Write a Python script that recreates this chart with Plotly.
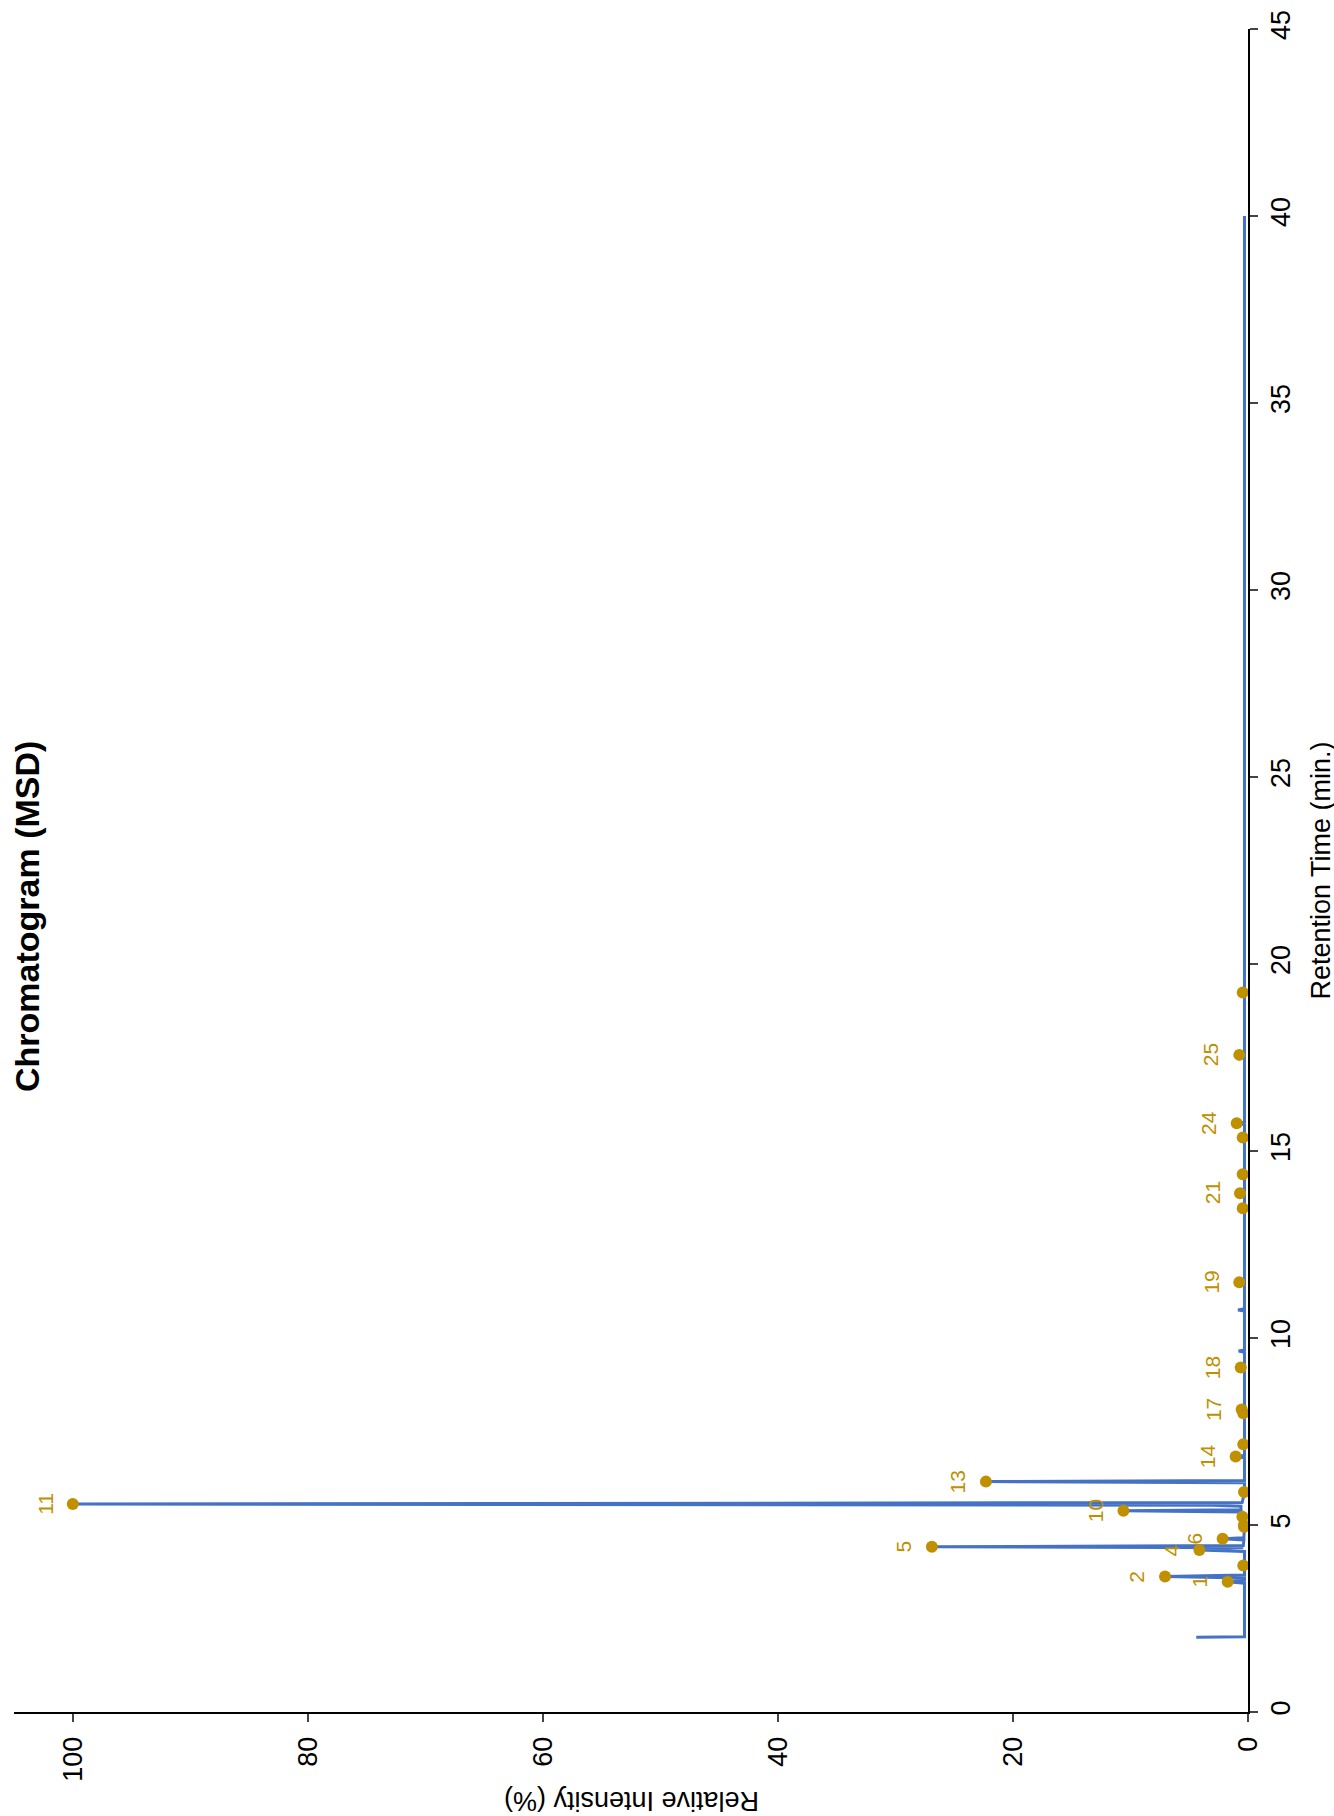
import plotly.graph_objects as go

# ---- data (retention time in min, relative intensity in %) ----
trace_rt = [2.00, 2.01, 3.44, 3.48, 3.52, 3.58, 3.62, 3.66, 3.88, 3.92, 3.96,
            4.29, 4.33, 4.37, 4.39, 4.42, 4.45, 4.60, 4.63, 4.66, 4.92, 4.95,
            4.97, 5.00, 5.03, 5.19, 5.22, 5.25, 5.35, 5.38, 5.41, 5.50, 5.53,
            5.56, 5.60, 5.85, 5.88, 5.91, 6.13, 6.16, 6.19, 6.80, 6.83, 6.86,
            7.13, 7.16, 7.19, 7.96, 7.99, 8.04, 8.09, 8.12, 9.18, 9.21, 9.24,
            9.62, 9.65, 9.68, 10.72, 10.75, 10.78, 11.46, 11.49, 11.52, 13.44,
            13.47, 13.50, 13.84, 13.87, 13.90, 14.35, 14.38, 14.41, 15.33,
            15.36, 15.39, 15.71, 15.74, 15.77, 17.54, 17.57, 17.60, 19.21,
            19.24, 19.27, 25.00, 30.00, 35.00, 40.00]
trace_int = [4.4, 0.3, 0.3, 1.73, 0.3, 0.3, 7.06, 0.3, 0.3, 0.4, 0.3,
             0.3, 4.14, 0.4, 0.4, 26.9, 0.4, 0.35, 2.16, 0.35, 0.3, 0.34,
             0.3, 0.35, 0.3, 0.3, 0.48, 0.3, 0.5, 10.6, 0.6, 0.6, 3.0,
             100.0, 0.5, 0.3, 0.34, 0.3, 0.3, 22.3, 0.3, 0.3, 1.05, 0.3,
             0.3, 0.4, 0.3, 0.3, 0.4, 0.3, 0.54, 0.3, 0.3, 0.62, 0.3,
             0.3, 0.8, 0.3, 0.3, 0.85, 0.3, 0.3, 0.74, 0.3, 0.3,
             0.45, 0.3, 0.3, 0.68, 0.3, 0.3, 0.45, 0.3, 0.3,
             0.45, 0.3, 0.3, 0.96, 0.3, 0.3, 0.74, 0.3, 0.3,
             0.45, 0.3, 0.3, 0.3, 0.3, 0.3]

peak_rt = [3.48, 3.62, 3.92, 4.33, 4.42, 4.63, 4.95, 5.00, 5.22, 5.38, 5.56,
           5.88, 6.16, 6.83, 7.16, 7.99, 8.09, 9.21, 11.49, 13.47, 13.87,
           14.38, 15.36, 15.74, 17.57, 19.24]
peak_int = [1.73, 7.06, 0.40, 4.14, 26.9, 2.16, 0.34, 0.35, 0.48, 10.6, 100.0,
            0.34, 22.3, 1.05, 0.40, 0.40, 0.54, 0.62, 0.74, 0.45, 0.68,
            0.45, 0.45, 0.96, 0.74, 0.45]
peak_labels = ["1", "2", "", "4", "5", "6", "", "", "", "10", "11",
               "", "13", "14", "", "", "17", "18", "19", "", "21",
               "", "", "24", "25", ""]

x_ticks = [0, 20, 40, 60, 80, 100]
y_ticks = [0, 5, 10, 15, 20, 25, 30, 35, 40, 45]

BLUE = "#4472C4"
GOLD = "#BF9000"
FONT = "Arial, Liberation Sans, sans-serif"

fig = go.Figure()
fig.add_trace(go.Scatter(x=trace_int, y=trace_rt, mode="lines",
                         line=dict(color=BLUE, width=3), showlegend=False))
fig.add_trace(go.Scatter(x=peak_int, y=peak_rt, mode="markers",
                         marker=dict(color=GOLD, size=12), showlegend=False))

for t, v, lab in zip(peak_rt, peak_int, peak_labels):
    if lab:
        fig.add_annotation(x=v, y=t, text=lab, showarrow=False, textangle=-90,
                           xanchor="center", yanchor="middle",
                           xshift=-28, font=dict(family=FONT, size=21, color=GOLD))

# titles (rotated chart)
PW, PH = 1234, 1683
fig.add_annotation(xref="paper", yref="paper", x=(27 - 14) / PW, y=(1712 - 917) / PH,
                   xanchor="center", yanchor="middle",
                   text="<b>Chromatogram (MSD)</b>", showarrow=False, textangle=-90,
                   font=dict(family=FONT, size=34, color="black"))
fig.add_annotation(xref="paper", yref="paper", x=(632 - 14) / PW, y=(1712 - 1801) / PH,
                   xanchor="center", yanchor="middle",
                   text="Relative Intensity (%)", showarrow=False, textangle=180,
                   font=dict(family=FONT, size=27, color="black"))
fig.add_annotation(xref="paper", yref="paper", x=(1320 - 14) / PW, y=0.5,
                   xanchor="center", yanchor="middle",
                   text="Retention Time (min.)", showarrow=False, textangle=-90,
                   font=dict(family=FONT, size=27, color="black"))

fig.update_layout(
    width=1334, height=1816,
    margin=dict(l=14, r=86, t=29, b=104, autoexpand=False),
    plot_bgcolor="white", paper_bgcolor="white",
    font=dict(family=FONT, size=27, color="black"),
    xaxis=dict(range=[105, 0], tickvals=x_ticks, ticks="outside", ticklen=8,
               tickwidth=2, showline=True, linecolor="black", linewidth=2,
               showgrid=False, zeroline=False, tickangle=-90, automargin=False,
               ticklabelstandoff=4, tickfont=dict(size=27)),
    yaxis=dict(range=[0, 45], tickvals=y_ticks, side="right", ticks="outside",
               ticklen=8, tickwidth=2, showline=True, linecolor="black",
               linewidth=2, showgrid=False, zeroline=False, tickangle=-90,
               automargin=False, ticklabelstandoff=0, tickfont=dict(size=27)),
)

fig.write_html("out.html", config={"displayModeBar": False},
               post_script="document.body.style.margin='0px';")
